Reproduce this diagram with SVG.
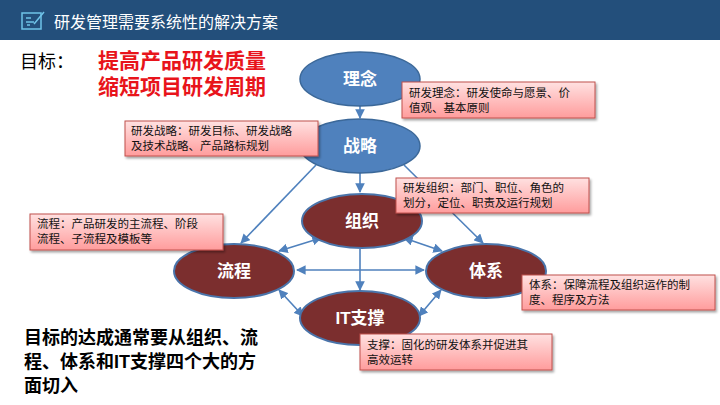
<svg xmlns="http://www.w3.org/2000/svg" width="720" height="405" viewBox="0 0 720 405">
<style>
text{font-family:"Liberation Sans","Noto Sans CJK SC",sans-serif}
.blue{fill:#4f81bd;stroke:#3b6899;stroke-width:1.5}
.red{fill:#7b2e2e;stroke:#4a74aa;stroke-width:2}
.el{fill:#fff;font-size:17px;font-weight:bold;text-anchor:middle}
.note{fill:url(#pg);stroke:#c0504d;stroke-width:1;filter:url(#sh)}
.nt{font-size:11.5px;fill:#111}
.c{stroke:#4f81bd;stroke-width:1.6;fill:none}
</style>
<defs>
<linearGradient id="pg" x1="0" y1="0" x2="0" y2="1"><stop offset="0" stop-color="#ffe1e1"/><stop offset="1" stop-color="#ff9c9c"/></linearGradient>
<filter id="sh" x="-10%" y="-20%" width="130%" height="150%"><feDropShadow dx="1.5" dy="2" stdDeviation="1" flood-color="#000" flood-opacity="0.35"/></filter>
<marker id="a" viewBox="0 0 10 10" refX="9" refY="5" markerWidth="6" markerHeight="6" orient="auto-start-reverse"><path d="M0,0L10,5L0,10z" fill="#4f81bd"/></marker>
</defs>
<rect width="720" height="405" fill="#fff"/>
<rect width="720" height="40" fill="#234f7b"/>
<g fill="none" stroke="#6fc3e8" stroke-width="1.5"><rect x="22" y="13" width="19" height="16"/><path d="M26,18h5M26,22h8M27,25h3M34,24l10,-12"/></g>
<text x="54" y="28" font-size="16" fill="#fff">研发管理需要系统性的解决方案</text>
<text x="20" y="68" font-size="18" fill="#000">目标：</text>
<text x="98" y="68" font-size="21" font-weight="bold" fill="#e8141b">提高产品研发质量</text>
<text x="98" y="94" font-size="21" font-weight="bold" fill="#e8141b">缩短项目研发周期</text>
<g font-size="18" font-weight="bold" fill="#000">
<text x="24" y="344">目标的达成通常要从组织、流</text>
<text x="24" y="368">程、体系和IT支撑四个大的方</text>
<text x="24" y="392">面切入</text></g>
<g id="connectors">
<path class="c" d="M360,106V118" marker-end="url(#a)"/>
<path class="c" d="M360,173V192" marker-end="url(#a)"/>
<path class="c" d="M316,165L241,243" marker-end="url(#a)"/>
<path class="c" d="M404,165L483,243" marker-end="url(#a)"/>
<path class="c" d="M360,249V290" marker-end="url(#a)"/>
<path class="c" d="M279,251L321,238" marker-start="url(#a)" marker-end="url(#a)"/>
<path class="c" d="M404,238L442,251" marker-start="url(#a)" marker-end="url(#a)"/>
<path class="c" d="M297,270H424" marker-start="url(#a)" marker-end="url(#a)"/>
<path class="c" d="M279,290L303,316" marker-start="url(#a)" marker-end="url(#a)"/>
<path class="c" d="M441,290L419,316" marker-start="url(#a)" marker-end="url(#a)"/>
</g>
<g id="n1"><ellipse class="blue" cx="360" cy="79" rx="60" ry="27"/><text class="el" x="360" y="85">理念</text></g>
<g id="n2"><ellipse class="blue" cx="360" cy="146" rx="60" ry="27"/><text class="el" x="360" y="152">战略</text></g>
<g id="n3"><ellipse class="red" cx="362" cy="221" rx="60" ry="27"/><text class="el" x="362" y="227">组织</text></g>
<g id="n4"><ellipse class="red" cx="234" cy="271" rx="60" ry="27"/><text class="el" x="234" y="277">流程</text></g>
<g id="n5"><ellipse class="red" cx="486" cy="271" rx="60" ry="27"/><text class="el" x="486" y="277">体系</text></g>
<g id="n6"><ellipse class="red" cx="360" cy="318" rx="60" ry="27"/><text class="el" x="360" y="324" font-size="15">IT支撑</text></g>
<g id="b1"><rect class="note" x="402" y="82" width="193" height="36"/><text class="nt" x="409" y="97">研发理念：研发使命与愿景、价</text><text class="nt" x="409" y="112">值观、基本原则</text></g>
<g id="b2"><rect class="note" x="125" y="121" width="193" height="35"/><text class="nt" x="131" y="135">研发战略：研发目标、研发战略</text><text class="nt" x="131" y="150">及技术战略、产品路标规划</text></g>
<g id="b3"><rect class="note" x="396" y="178" width="193" height="35"/><text class="nt" x="403" y="192">研发组织：部门、职位、角色的</text><text class="nt" x="403" y="207">划分，定位、职责及运行规划</text></g>
<g id="b4"><rect class="note" x="30" y="214" width="193" height="36"/><text class="nt" x="37" y="228">流程：产品研发的主流程、阶段</text><text class="nt" x="37" y="243">流程、子流程及模板等</text></g>
<g id="b5"><rect class="note" x="522" y="275" width="193" height="35"/><text class="nt" x="529" y="289">体系：保障流程及组织运作的制</text><text class="nt" x="529" y="304">度、程序及方法</text></g>
<g id="b6"><rect class="note" x="360" y="334" width="192" height="36"/><text class="nt" x="367" y="349">支撑：固化的研发体系并促进其</text><text class="nt" x="367" y="364">高效运转</text></g>
</svg>
